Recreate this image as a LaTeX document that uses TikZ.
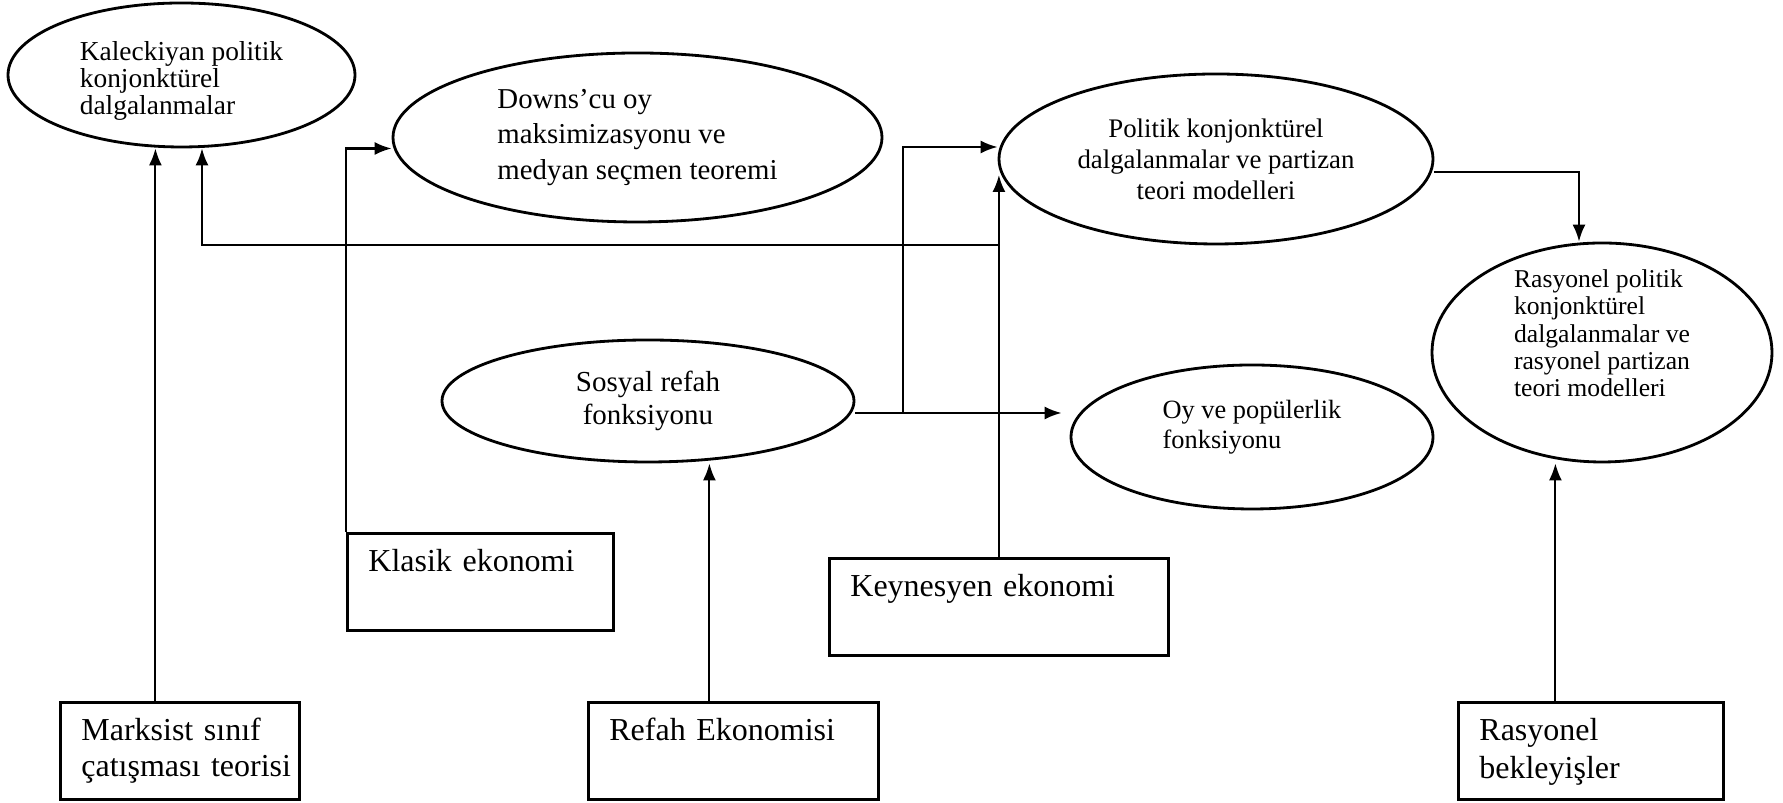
\documentclass[tikz,border=0pt]{standalone}
\usepackage{fontspec}
\setmainfont{Liberation Serif}
\usetikzlibrary{shapes.geometric,arrows.meta,calc,positioning}

\begin{document}
\begin{tikzpicture}[
  oval/.style={draw, ellipse, line width=0.8pt, inner sep=0pt},
  kutu/.style={draw, rectangle, line width=0.8pt, anchor=north west, align=left,
    inner xsep=0.21cm, inner ysep=0.13cm, text height=0.25cm, text depth=0.46cm,
    font=\fontsize{9.1}{10.3}\selectfont},
  ok/.style={line width=0.6pt, -{Latex[length=0.17cm,width=0.13cm]}}
  ]
  \useasboundingbox (0,0) rectangle (17.83,8.03);

  % elipsler
  \node[oval, minimum width=3.47cm, minimum height=1.44cm, align=left,
    text height=0.86cm, text depth=0.06cm,
    font=\fontsize{7.8}{7.8}\selectfont] (kal) at (1.815,7.28)
    {Kaleckiyan politik\\konjonktürel\\dalgalanmalar};
  \node[oval, minimum width=4.89cm, minimum height=1.69cm, align=left,
    font=\fontsize{8.2}{10.1}\selectfont] (downs) at (6.375,6.655)
    {Downs’cu oy\\maksimizasyonu ve\\medyan seçmen teoremi};
  \node[oval, minimum width=4.34cm, minimum height=1.70cm, align=center,
    font=\fontsize{7.63}{8.8}\selectfont] (pol) at (12.16,6.44)
    {Politik konjonktürel\\dalgalanmalar ve partizan\\teori modelleri};
  \node[oval, minimum width=4.12cm, minimum height=1.22cm, align=center,
    font=\fontsize{8.25}{9.4}\selectfont] (sos) at (6.48,4.02)
    {Sosyal refah\\fonksiyonu};
  \node[oval, minimum width=3.62cm, minimum height=1.44cm, align=left,
    text height=0.30cm, text depth=0.06cm,
    font=\fontsize{7.5}{8.8}\selectfont] (oy) at (12.52,3.66)
    {Oy ve popülerlik\\fonksiyonu};
  \node[oval, minimum width=3.40cm, minimum height=2.19cm, align=left,
    text height=0.95cm, text depth=0.06cm,
    font=\fontsize{7.3}{7.8}\selectfont] (ras) at (16.02,4.505)
    {Rasyonel politik\\konjonktürel\\dalgalanmalar ve\\rasyonel partizan\\teori modelleri};

  % kutular
  \node[kutu, text width=1.97cm] (marks) at (0.59,1.02)
    {\mbox{Marksist sınıf}\\\mbox{çatışması teorisi}};
  \node[kutu, text width=2.24cm] (klas) at (3.46,2.71) {\mbox{Klasik ekonomi}};
  \node[kutu, text width=2.48cm] (ref) at (5.87,1.02) {\mbox{Refah Ekonomisi}};
  \node[kutu, text width=2.97cm] (keyn) at (8.28,2.46) {\mbox{Keynesyen ekonomi}};
  \node[kutu, text width=2.23cm, font=\fontsize{9.1}{10.8}\selectfont] (rbek) at (14.57,1.02)
    {\mbox{Rasyonel}\\\mbox{bekleyişler}};

  \coordinate (polin) at ($(pol.west)+(0,-0.16)$);
  \coordinate (sosout) at ([yshift=-0.12cm]sos.east);
  \coordinate (ayrim) at ([xshift=0.48cm]sosout);

  % oklar
  \draw[ok] ([xshift=-0.245cm]marks.north) -- ([xshift=-0.245cm]marks.north |- kal.south);
  \draw[ok] (klas.north west) |- ([yshift=-0.11cm]downs.west);
  \draw[ok] ([xshift=-0.24cm]ref.north) -- ([xshift=-0.24cm]ref.north |- sos.south);
  \draw[ok] (keyn.north) -- (keyn.north |- polin);
  \draw[ok] (keyn.north |- pol.south) -| ([xshift=0.205cm]kal.south);
  \draw[ok, shorten >=0.08cm] (sosout) -- (sosout -| oy.west);
  \draw[ok] (ayrim) |- ([yshift=0.12cm]pol.west);
  \draw[ok] ([yshift=-0.13cm]pol.east) -| ([xshift=-0.23cm]ras.north);
  \draw[ok] ([xshift=-0.355cm]rbek.north) -- ([xshift=-0.355cm]rbek.north |- ras.south);
\end{tikzpicture}
\end{document}
